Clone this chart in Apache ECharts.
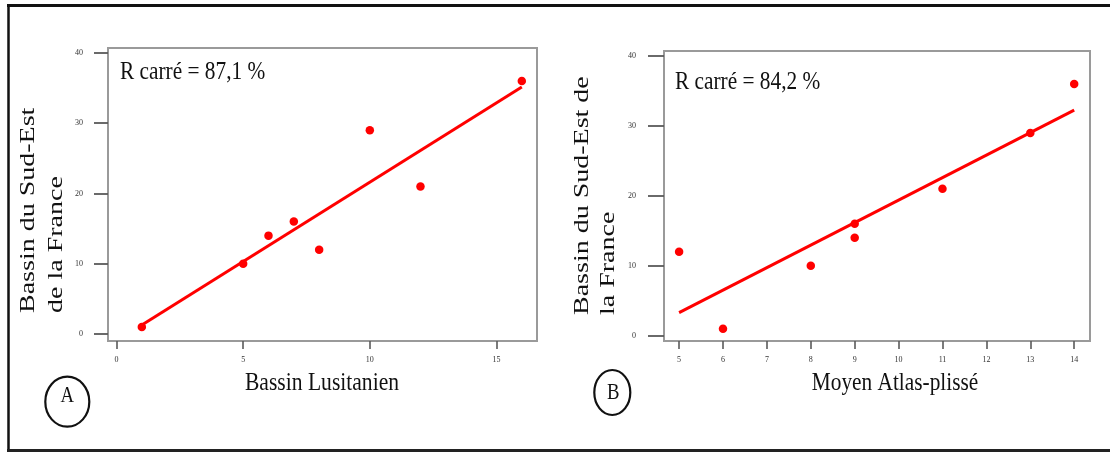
<!DOCTYPE html>
<html>
<head>
<meta charset="utf-8">
<script src="https://cdn.jsdelivr.net/npm/echarts@6/dist/echarts.min.js"></script>
<style>
html,body{margin:0;padding:0;background:#fff;}
#chart{width:1110px;height:452px;}
</style>
</head>
<body>
<div id="chart"></div>
<script>
// ---- data ----
const xA = [1, 5, 6, 7, 8, 10, 12, 16];
const yA = [1, 10, 14, 16, 12, 29, 21, 36];
const xB = [5, 6, 8, 9, 9, 11, 13, 14];
const yB = [12, 1, 10, 16, 14, 21, 29, 36];
const xTicksA = [0, 5, 10, 15];
const xTicksB = [5, 6, 7, 8, 9, 10, 11, 12, 13, 14];
const yTicks = [0, 10, 20, 30, 40];
const xNameA = 'Bassin Lusitanien';
const xNameB = 'Moyen Atlas-plissé';
const yNameA = ['Bassin du Sud-Est', 'de la France'];
const yNameB = ['Bassin du Sud-Est de', 'la France'];
const r2A = 'R carré = 87,1 %';
const r2B = 'R carré = 84,2 %';
const panelA = 'A';
const panelB = 'B';

// least-squares fit drawn from the points
function fit(xs, ys) {
  const n = xs.length;
  const mx = xs.reduce((a, b) => a + b, 0) / n;
  const my = ys.reduce((a, b) => a + b, 0) / n;
  let sxy = 0, sxx = 0;
  for (let i = 0; i < n; i++) { sxy += (xs[i] - mx) * (ys[i] - my); sxx += (xs[i] - mx) ** 2; }
  const b = sxy / sxx, a = my - b * mx;
  const x0 = Math.min(...xs), x1 = Math.max(...xs);
  return [[x0, a + b * x0], [x1, a + b * x1]];
}
const zip = (xs, ys) => xs.map((x, i) => [x, ys[i]]);

const SERIF = '"Liberation Serif", "Times New Roman", serif';
const RED = '#ff0000';
const FRAME = '#9a9a9a';
const TICK = '#5a5a5a';

function xAxisCfg(grid, min, max, ticks) {
  return {
    type: 'value', gridIndex: grid, min: min, max: max,
    splitLine: { show: false },
    axisLine: { show: false, onZero: false },
    axisTick: { show: true, length: 8, lineStyle: { color: TICK, width: 1.6 }, customValues: ticks },
    axisLabel: { show: true, margin: 15, fontSize: 8, fontFamily: SERIF, color: '#333', customValues: ticks }
  };
}
function yAxisCfg(grid, min, max, ticks, tlen, margin) {
  return {
    type: 'value', gridIndex: grid, min: min, max: max,
    splitLine: { show: false },
    axisLine: { show: false, onZero: false },
    axisTick: { show: true, length: tlen, lineStyle: { color: TICK, width: 1.8 }, customValues: ticks },
    axisLabel: { show: true, margin: margin, fontSize: 8, fontFamily: SERIF, color: '#333', customValues: ticks }
  };
}

function txt(x, y, s, size, align, opts) {
  return Object.assign({
    type: 'text', x: x, y: y, silent: true,
    style: {
      text: s, font: size + 'px ' + SERIF, fill: '#111',
      textAlign: align, textVerticalAlign: 'middle', align: align, verticalAlign: 'middle'
    }
  }, opts || {});
}

const chart = echarts.init(document.getElementById('chart'), null, { renderer: 'canvas' });
chart.setOption({
  backgroundColor: '#ffffff',
  animation: false,
  grid: [
    { left: 108, top: 48, width: 429, height: 293, show: true, borderColor: FRAME, borderWidth: 2, backgroundColor: 'transparent' },
    { left: 664, top: 51, width: 426, height: 290, show: true, borderColor: FRAME, borderWidth: 2, backgroundColor: 'transparent' }
  ],
  xAxis: [
    xAxisCfg(0, -0.336, 16.6, xTicksA),
    xAxisCfg(1, 4.656, 14.36, xTicksB)
  ],
  yAxis: [
    yAxisCfg(0, -1.0, 40.71, yTicks, 14, 25),
    yAxisCfg(1, -0.76, 40.71, yTicks, 16, 28)
  ],
  series: [
    { type: 'line', xAxisIndex: 0, yAxisIndex: 0, data: fit(xA, yA), showSymbol: false,
      lineStyle: { color: RED, width: 3 }, z: 2 },
    { type: 'scatter', xAxisIndex: 0, yAxisIndex: 0, data: zip(xA, yA), symbolSize: 8.5,
      itemStyle: { color: RED, opacity: 1 }, z: 3 },
    { type: 'line', xAxisIndex: 1, yAxisIndex: 1, data: fit(xB, yB), showSymbol: false,
      lineStyle: { color: RED, width: 3 }, z: 2 },
    { type: 'scatter', xAxisIndex: 1, yAxisIndex: 1, data: zip(xB, yB), symbolSize: 8.5,
      itemStyle: { color: RED, opacity: 1 }, z: 3 }
  ],
  graphic: [
    // outer frame
    { type: 'line', shape: { x1: 7, y1: 5.5, x2: 1110, y2: 5.5 }, style: { stroke: '#111', lineWidth: 3 } },
    { type: 'line', shape: { x1: 8.5, y1: 4, x2: 8.5, y2: 452 }, style: { stroke: '#111', lineWidth: 2.5 } },
    { type: 'line', shape: { x1: 7, y1: 450.5, x2: 1110, y2: 450.5 }, style: { stroke: '#222', lineWidth: 3 } },
    // R squared annotations
    txt(120, 72, r2A, 26, 'left', { scaleX: 0.82 }),
    txt(675, 82.5, r2B, 26, 'left', { scaleX: 0.82 }),
    // x axis names
    txt(322, 383, xNameA, 26, 'center', { scaleX: 0.83 }),
    txt(895, 383, xNameB, 26, 'center', { scaleX: 0.82 }),
    // y axis names (rotated)
    txt(28.6, 313, yNameA[0], 28, 'left', { rotation: Math.PI / 2, scaleY: 0.78 }),
    txt(56.5, 313, yNameA[1], 28, 'left', { rotation: Math.PI / 2, scaleY: 0.78 }),
    txt(582, 315, yNameB[0], 28, 'left', { rotation: Math.PI / 2, scaleY: 0.78 }),
    txt(608.5, 315, yNameB[1], 28, 'left', { rotation: Math.PI / 2, scaleY: 0.78 }),
    // panel markers
    { type: 'ellipse', shape: { cx: 67.3, cy: 401.7, rx: 22, ry: 25 }, style: { fill: 'none', stroke: '#111', lineWidth: 2.2 } },
    txt(67.3, 396, panelA, 24, 'center', { scaleX: 0.78 }),
    { type: 'ellipse', shape: { cx: 612.3, cy: 392.5, rx: 18, ry: 22.5 }, style: { fill: 'none', stroke: '#111', lineWidth: 2.2 } },
    txt(613.3, 393, panelB, 24, 'center', { scaleX: 0.78 })
  ]
});
</script>
</body>
</html>
